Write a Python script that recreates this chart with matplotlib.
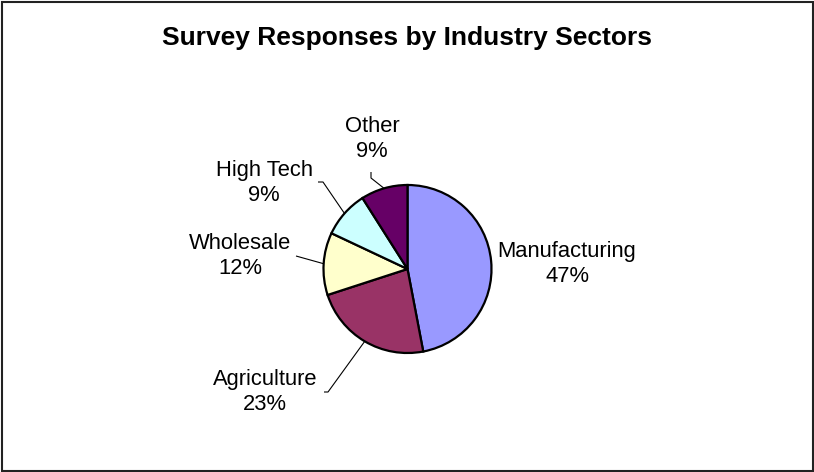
import numpy as np
import matplotlib
matplotlib.use('Agg')
import matplotlib.pyplot as plt
from matplotlib.patches import Rectangle

# data
sectors = ['Manufacturing', 'Agriculture', 'Wholesale', 'High Tech', 'Other']
percents = [47, 23, 12, 9, 9]
colors = ['#9999FF', '#993366', '#FFFFCC', '#CCFFFF', '#660066']

plt.rcParams['font.family'] = ['Liberation Sans', 'DejaVu Sans']

W, H = 814, 472
fig = plt.figure(figsize=(W / 100, H / 100), dpi=100)
ax = fig.add_axes([0, 0, 1, 1])

# work in pixel coords, y measured from top
def py(y):
    return H - y

cx, cy, r = 407.5, py(269), 84
wedges, _ = ax.pie(percents, colors=colors, startangle=90, counterclock=False,
                   center=(cx, cy), radius=r,
                   wedgeprops=dict(edgecolor='black', linewidth=1.6))
ax.set_xlim(0, W)
ax.set_ylim(0, H)
ax.set_aspect('equal')
ax.axis('off')

# label text centres and leader elbows (pixel coords)
label_pos = {
    'Manufacturing': (567, 264),
    'Agriculture': (265, 392),
    'Wholesale': (240, 256),
    'High Tech': (264, 183),
    'Other': (372, 139),
}
leaders = {
    'Agriculture': [(324, 392), (328, 392)],
    'Wholesale': [(296, 256)],
    'High Tech': [(318, 182), (323, 182)],
    'Other': [(371, 172), (371, 178)],
}

for w, name, p in zip(wedges, sectors, percents):
    x, y = label_pos[name]
    ax.text(x, py(y), f'{name}\n{p}%', ha='center', va='center',
            fontsize=15.8, color='black', linespacing=1.3)
    if name in leaders:
        mid = np.deg2rad((w.theta1 + w.theta2) / 2)
        ex, ey = cx + r * np.cos(mid), cy + r * np.sin(mid)
        pts = [(a, py(b)) for a, b in leaders[name]] + [(ex, ey)]
        xs, ys = zip(*pts)
        ax.plot(xs, ys, color='black', linewidth=0.8, solid_capstyle='butt')

fig.text(407 / W, 1 - 38 / H, 'Survey Responses by Industry Sectors',
         ha='center', va='center', fontsize=19, fontweight='bold')

fig.patches.append(Rectangle((2 / W, 1.5 / H), (W - 3.5) / W, (H - 3.5) / H,
                             transform=fig.transFigure, fill=False,
                             edgecolor='#222222', linewidth=1.5))

fig.savefig('out.png', dpi=100, facecolor='white')
